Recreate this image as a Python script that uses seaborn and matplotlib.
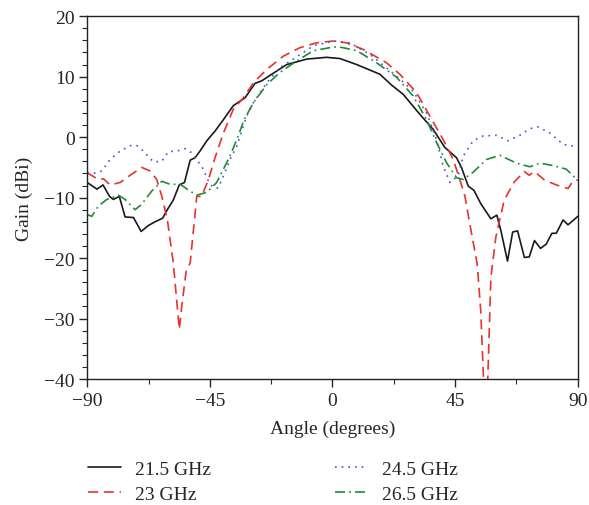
import numpy as np
import pandas as pd
import matplotlib
matplotlib.use("Agg")
import matplotlib.pyplot as plt
import seaborn as sns
from matplotlib.ticker import MultipleLocator

# ---- data (angle in degrees, gain in dBi) ----
A21 = [-90, -86.4, -84.2, -81.8, -80.4, -78.2, -76.1, -73.0, -70.2, -67.5, -65.1, -62.3,
       -60.6, -58.4, -56.2, -54.3, -52.2, -50.4, -48.6, -46.1, -43.1, -40.0, -36.4, -32.1,
       -28.4, -26.0, -22.3, -16.8, -9.5, -2.2, 2.7, 8.9, 17.4, 21.7, 25.9, 32.0, 36.9, 41.2,
       45.5, 47.3, 49.8, 51.9, 54.4, 58.1, 60.3, 61.8, 64.2, 66.1, 67.9, 70.4, 72.2, 74.1,
       76.3, 78.4, 80.5, 82.1, 84.6, 86.4, 90]
G21 = [-7.5, -8.6, -7.9, -9.8, -10.3, -9.8, -13.2, -13.3, -15.6, -14.6, -14.0, -13.4,
       -12.0, -10.4, -7.9, -7.5, -3.8, -3.4, -2.3, -0.6, 1.0, 2.9, 5.2, 6.5,
       8.9, 9.3, 10.4, 12.0, 12.9, 13.2, 13.0, 12.0, 10.4, 8.6, 7.1, 3.8, 1.3, -1.7,
       -3.4, -5.0, -8.1, -8.8, -11.0, -13.5, -12.9, -15.5, -20.5, -15.7, -15.5, -19.9, -19.8, -17.1,
       -18.4, -17.7, -15.9, -15.9, -13.7, -14.5, -13.1]

A23 = [-90, -85.9, -84.0, -81.6, -77.9, -74.2, -70.0, -66.9, -64.5, -62.6, -60.6, -58.4,
       -56.2, -55.3, -53.7, -52.2, -51.0, -49.8, -48.0, -45.5, -43.1, -40.0, -36.4, -32.7,
       -29.0, -24.1, -18.0, -11.9, -5.8, 0.3, 5.1, 11.3, 19.8, 24.7, 30.8, 35.7, 40.6, 44.3,
       46.7, 48.6, 50.6, 53.1, 54.4, 56.3, 58.1, 59.9, 63.0, 66.7, 70.4, 72.2, 74.1, 77.8,
       82.1, 86.4, 88.3, 90]
G23 = [-5.9, -7.0, -6.9, -7.9, -7.5, -6.3, -5.0, -5.6, -7.0, -9.8, -13.6, -20.8,
       -31.8, -28.0, -22.2, -20.8, -15.3, -9.8, -9.8, -7.0, -3.4, 0.7, 4.6, 6.5,
       9.0, 11.2, 13.4, 14.8, 15.6, 15.9, 15.6, 14.5, 12.3, 10.4, 7.4, 3.5, -0.4, -3.7,
       -7.0, -9.8, -14.9, -21.0, -28.8, -50.0, -23.3, -16.6, -10.4, -7.4, -5.7, -6.3, -5.7, -7.1,
       -7.9, -8.5, -7.2, -7.1]

A24 = [-90, -87.7, -84.6, -81.6, -77.9, -74.2, -71.8, -69.4, -65.7, -62.6, -60.2, -57.1,
       -54.1, -51.6, -49.8, -47.4, -45.5, -43.7, -41.9, -40.0, -37.6, -35.1, -31.5, -29.0,
       -24.1, -19.3, -14.4, -7.0, 0.3, 6.4, 13.7, 23.5, 29.6, 34.5, 38.2, 40.6, 43.1, 46.1,
       48.0, 51.6, 55.3, 60.2, 64.4, 68.7, 72.4, 75.4, 79.7, 84.6, 90]
G24 = [-5.9, -6.0, -5.6, -3.7, -2.3, -1.4, -1.4, -2.3, -4.1, -4.0, -2.4, -2.3,
       -1.9, -2.6, -3.7, -5.3, -7.3, -8.4, -8.4, -6.4, -3.7, -1.5, 3.5, 5.7,
       9.0, 11.5, 12.9, 15.1, 15.9, 15.6, 13.7, 10.1, 7.6, 4.0, -0.4, -4.8, -7.5, -6.4,
       -3.1, -0.6, 0.2, 0.3, -0.6, 0.3, 1.4, 1.7, 0.7, -1.2, -1.6]

A26 = [-90, -88.3, -85.9, -82.8, -78.5, -76.1, -72.4, -70.0, -66.3, -62.6, -59.6, -55.9,
       -52.3, -49.8, -46.7, -44.9, -42.5, -40.0, -37.6, -35.1, -32.4, -29.0, -24.1, -19.3,
       -13.1, -7.0, 0.3, 2.7, 8.9, 16.2, 23.5, 29.6, 34.5, 38.2, 41.8, 45.5, 48.0, 51.6,
       56.5, 61.4, 67.5, 72.4, 76.0, 80.9, 85.8, 88.9, 90]
G26 = [-12.8, -13.1, -11.4, -10.3, -9.6, -10.3, -12.0, -11.1, -8.9, -7.3, -7.8, -7.8,
       -8.9, -9.6, -9.2, -8.6, -7.5, -5.3, -3.1, -0.4, 2.9, 5.7, 8.7, 10.7,
       12.6, 14.3, 14.9, 14.9, 14.3, 12.3, 9.9, 6.8, 2.9, -0.9, -4.2, -6.7, -7.0, -5.8,
       -3.7, -3.0, -4.3, -4.9, -4.3, -4.7, -5.3, -6.7, -7.0]

LABELS = ["21.5 GHz", "23 GHz", "24.5 GHz", "26.5 GHz"]
COLORS = ["#1a1a1a", "#e8322b", "#4f4fd0", "#1e8c34"]
STYLES = ["-", (0, (6, 3.5)), (0, (1, 3)), (0, (6, 2.5, 1, 2.5))]

sns.set_style("ticks")
plt.rcParams["font.family"] = ["Liberation Serif", "DejaVu Serif"]
plt.rcParams["font.size"] = 14

fig = plt.figure(figsize=(5.89, 5.06), dpi=100)
ax = fig.add_axes([0.148, 0.249, 0.833, 0.717])

series = [(A21, G21), (A23, G23), (A24, G24), (A26, G26)]
for (ang, gain), lab, col, ls in zip(series, LABELS, COLORS, STYLES):
    sns.lineplot(x=np.array(ang), y=np.array(gain), ax=ax, color=col, linestyle=ls,
                 linewidth=1.2, sort=False, label=lab)

ax.set_xlim(-90, 90)
ax.set_ylim(-40, 20)
ax.xaxis.set_major_locator(MultipleLocator(45))
ax.xaxis.set_minor_locator(MultipleLocator(22.5))
ax.yaxis.set_major_locator(MultipleLocator(10))
ax.yaxis.set_minor_locator(MultipleLocator(2))
ax.tick_params(which="major", direction="out", length=6, width=1, labelsize=14, pad=3)
ax.tick_params(which="minor", direction="out", length=3.5, width=0.8)
for s in ax.spines.values():
    s.set_linewidth(1.0)
    s.set_color("#222222")
ax.set_xlabel("Angle (degrees)", fontsize=14, labelpad=8)
ax.set_ylabel("Gain (dBi)", fontsize=14, labelpad=8)

handles, labels = ax.get_legend_handles_labels()
ax.get_legend().remove()
fig.legend(handles, labels, ncol=2, loc="upper left", bbox_to_anchor=(0.133, 0.107),
           frameon=False, fontsize=14, handlelength=1.7, handletextpad=0.7,
           columnspacing=6.4, labelspacing=0.35, borderpad=0)

fig.savefig("out.png", dpi=100)
